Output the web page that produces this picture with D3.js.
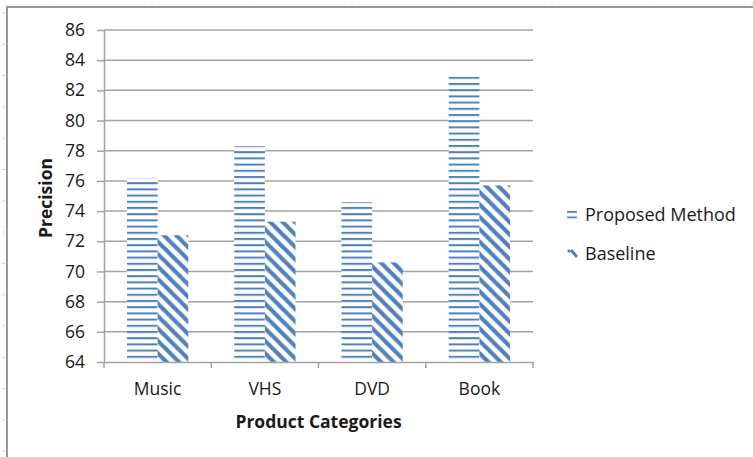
<!DOCTYPE html>
<html>
<head>
<meta charset="utf-8">
<script src="https://cdn.jsdelivr.net/npm/d3@7"></script>
<style>
  html, body { margin: 0; padding: 0; background: #fff; }
  svg { display: block; }
  text { font-family: "Open Sans", "Liberation Sans", sans-serif; fill: #1a1a1a; }
</style>
</head>
<body>
<svg id="chart" width="753" height="457"></svg>
<script>
// Chart data
const categories = ["Music", "VHS", "DVD", "Book"];
const seriesNames = ["Proposed Method", "Baseline"];
const proposed = [76.2, 78.3, 74.6, 82.9];
const baseline = [72.4, 73.3, 70.6, 75.7];
const yTicks = [64, 66, 68, 70, 72, 74, 76, 78, 80, 82, 84, 86];

const W = 753, H = 457;
const plot = { left: 104, right: 533, top: 30, bottom: 362 };
const blue = "#4f81bd";
const gridColor = "#a3a3a3";

const svg = d3.select("#chart");
const defs = svg.append("defs");

// Horizontal line hatch
const pH = defs.append("pattern")
  .attr("id", "hatch-h").attr("patternUnits", "userSpaceOnUse")
  .attr("width", 8).attr("height", 6.2).attr("y", plot.bottom);
pH.append("rect").attr("width", 8).attr("height", 6.2).attr("fill", "#fff");
pH.append("rect").attr("y", 0).attr("width", 8).attr("height", 2).attr("fill", blue);

// Wide downward diagonal hatch
const dP = 12.4;
const pD = defs.append("pattern")
  .attr("id", "hatch-d").attr("patternUnits", "userSpaceOnUse")
  .attr("width", dP).attr("height", dP);
pD.append("rect").attr("width", dP).attr("height", dP).attr("fill", "#fff");
[-dP, 0, dP].forEach(o => {
  pD.append("line")
    .attr("x1", o - 2).attr("y1", -2).attr("x2", o + dP + 2).attr("y2", dP + 2)
    .attr("stroke", blue).attr("stroke-width", 4.2);
});

const fills = ["url(#hatch-h)", "url(#hatch-d)"];

// Worksheet frame
const frame = svg.append("g");
frame.append("line").attr("x1", 7).attr("y1", 7).attr("x2", 7).attr("y2", H)
  .attr("stroke", "#9a9a9a").attr("stroke-width", 2);
frame.append("line").attr("x1", 6).attr("y1", 7).attr("x2", W).attr("y2", 7)
  .attr("stroke", "#9a9a9a").attr("stroke-width", 2);
d3.range(13, H, 31.3).forEach(y => {
  frame.append("line").attr("x1", 2).attr("x2", 5).attr("y1", y).attr("y2", y)
    .attr("stroke", "#cfcfcf").attr("stroke-width", 1);
});
d3.range(52, W, 100).forEach(x => {
  frame.append("line").attr("x1", x).attr("x2", x).attr("y1", 3).attr("y2", 5)
    .attr("stroke", "#d5d5d5").attr("stroke-width", 1);
});

// Scales
const y = d3.scaleLinear().domain([64, 86]).range([plot.bottom, plot.top]);
const x = d3.scaleBand().domain(categories).range([plot.left, plot.right]);
const barW = x.bandwidth() / 3.5;
const xs = d3.scaleBand().domain(seriesNames)
  .range([0, 2 * barW]);

// Gridlines
svg.append("g").selectAll("line").data(yTicks.slice(1)).join("line")
  .attr("x1", plot.left).attr("x2", plot.right)
  .attr("y1", d => y(d)).attr("y2", d => y(d))
  .attr("stroke", gridColor).attr("stroke-width", 1.5);

// Bars
const groups = svg.append("g").selectAll("g").data(categories).join("g")
  .attr("transform", d => `translate(${x(d) + (x.bandwidth() - 2 * barW) / 2},0)`);
groups.each(function(c, i) {
  const vals = [proposed[i], baseline[i]];
  d3.select(this).selectAll("rect").data(vals).join("rect")
    .attr("x", (v, j) => xs(seriesNames[j]))
    .attr("width", barW)
    .attr("y", v => y(v))
    .attr("height", v => y(64) - y(v))
    .attr("fill", (v, j) => fills[j]);
});

// Y axis
const yAxis = svg.append("g").attr("transform", `translate(${plot.left},0)`)
  .call(d3.axisLeft(y).tickValues(yTicks).tickSize(7).tickSizeOuter(0).tickPadding(12));
yAxis.select(".domain").attr("stroke", gridColor).attr("stroke-width", 1.5);
yAxis.selectAll(".tick line").attr("stroke", gridColor).attr("stroke-width", 1.5);
yAxis.selectAll("text").attr("font-size", 17.5).attr("fill", "#1a1a1a")
  .attr("font-family", "'Open Sans', sans-serif");

// X axis
const xAxis = svg.append("g").attr("transform", `translate(0,${plot.bottom})`)
  .call(d3.axisBottom(x).tickSize(0).tickPadding(21));
xAxis.select(".domain").attr("stroke", gridColor).attr("stroke-width", 1.5);
xAxis.selectAll("text").attr("font-size", 17.5).attr("fill", "#1a1a1a")
  .attr("font-family", "'Open Sans', sans-serif");
// boundary ticks between categories
const bounds = categories.map(c => x(c)).concat([plot.right]);
svg.append("g").selectAll("line").data(bounds).join("line")
  .attr("x1", d => d).attr("x2", d => d)
  .attr("y1", plot.bottom).attr("y2", plot.bottom + 6)
  .attr("stroke", gridColor).attr("stroke-width", 1.5);

// Axis titles
svg.append("text").attr("x", (plot.left + plot.right) / 2).attr("y", 428)
  .attr("text-anchor", "middle").attr("font-size", 17.5).attr("font-weight", "bold")
  .text("Product Categories");
svg.append("text")
  .attr("transform", `translate(52,${(plot.top + plot.bottom) / 2 + 2}) rotate(-90)`)
  .attr("text-anchor", "middle").attr("font-size", 17.5).attr("font-weight", "bold")
  .text("Precision");

// Legend
const legend = svg.append("g");
const legY = [215, 254];
seriesNames.forEach((name, i) => {
  const g = legend.append("g").attr("transform", `translate(567,${legY[i]})`);
  if (i === 0) {
    g.append("rect").attr("x", 0).attr("y", -4).attr("width", 10).attr("height", 1.8).attr("fill", blue);
    g.append("rect").attr("x", 0).attr("y", 1.5).attr("width", 10).attr("height", 1.8).attr("fill", blue);
  } else {
    g.append("line").attr("x1", 1).attr("y1", -4).attr("x2", 3).attr("y2", -2)
      .attr("stroke", blue).attr("stroke-width", 2.5);
    g.append("line").attr("x1", 4).attr("y1", -4).attr("x2", 10).attr("y2", 3)
      .attr("stroke", blue).attr("stroke-width", 3);
  }
  g.append("text").attr("x", 18).attr("y", 0).attr("dy", "0.35em")
    .attr("font-size", 18).text(name);
});
</script>
</body>
</html>
